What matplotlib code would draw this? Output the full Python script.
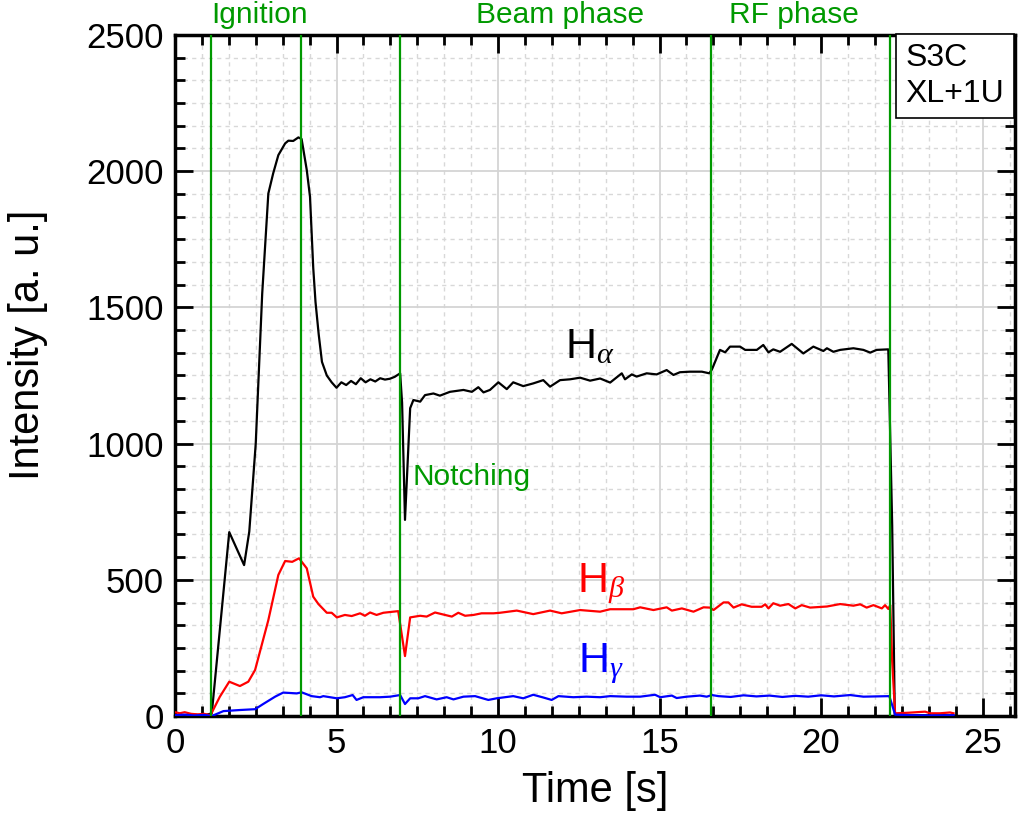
import matplotlib
matplotlib.use("Agg")
import matplotlib.pyplot as plt
from matplotlib.ticker import MultipleLocator

plt.rcParams['font.family'] = ['Liberation Sans', 'DejaVu Sans']
plt.rcParams['mathtext.fontset'] = 'custom'
plt.rcParams['mathtext.rm'] = 'Liberation Sans'
plt.rcParams['mathtext.it'] = 'Liberation Serif:italic'

# H alpha (black)
ha_t = [0.0, 0.3, 0.6, 0.9, 1.14, 1.68, 2.14, 2.30, 2.5, 2.7, 2.89, 3.04, 3.2, 3.41, 3.51,
        3.66, 3.82, 3.92, 4.08, 4.18, 4.28, 4.35, 4.45, 4.55, 4.7, 4.85, 5.0, 5.15, 5.3, 5.45,
        5.6, 5.75, 5.9, 6.05, 6.2, 6.35, 6.5, 6.65, 6.8, 6.97, 7.03, 7.12, 7.28, 7.38, 7.59,
        7.74, 8.0, 8.2, 8.51, 8.93, 9.19, 9.39, 9.55, 9.75, 10.01, 10.27, 10.47, 10.78, 11.09, 11.4,
        11.61, 11.92, 12.23, 12.54, 12.85, 13.16, 13.47, 13.83, 13.93, 14.14, 14.29, 14.6, 14.91, 15.22, 15.43,
        15.63, 15.94, 16.31, 16.54, 16.62, 16.87, 17.03, 17.18, 17.49, 17.65, 18.01, 18.21, 18.37, 18.52, 18.73,
        19.09, 19.45, 19.76, 20.07, 20.18, 20.38, 20.59, 21.0, 21.31, 21.52, 21.72, 22.08, 22.2, 22.28, 22.6,
        23.0, 23.4, 23.8, 24.1]
ha_y = [4, 2, 5, 2, 10, 675, 554, 677, 1000, 1550, 1918, 1992, 2059, 2102, 2112,
        2111, 2124, 2118, 2004, 1906, 1645, 1520, 1400, 1300, 1250, 1225, 1205, 1225, 1215, 1230,
        1218, 1240, 1225, 1236, 1228, 1240, 1235, 1238, 1245, 1258, 1150, 720, 1130, 1160, 1154,
        1178, 1184, 1176, 1190, 1197, 1190, 1207, 1188, 1197, 1225, 1200, 1225, 1211, 1221, 1233,
        1209, 1233, 1236, 1242, 1231, 1239, 1224, 1258, 1236, 1254, 1246, 1258, 1254, 1270, 1252,
        1262, 1264, 1264, 1258, 1272, 1344, 1335, 1356, 1356, 1344, 1344, 1362, 1335, 1346, 1337,
        1366, 1331, 1356, 1340, 1350, 1337, 1344, 1350, 1344, 1334, 1344, 1346, 700, 5, 2,
        3, 2, 3, 2]

# H beta (red)
hb_t = [0.0, 0.15, 0.3, 0.5, 0.7, 0.9, 1.1, 1.39, 1.68, 2.01, 2.27, 2.48, 2.89, 3.2, 3.41,
        3.63, 3.84, 4.08, 4.28, 4.44, 4.70, 4.85, 5.01, 5.26, 5.47, 5.73, 5.88, 6.04, 6.24, 6.45,
        6.91, 7.12, 7.28, 7.59, 7.79, 8.05, 8.36, 8.57, 8.77, 8.98, 9.24, 9.49, 9.86, 10.06, 10.58,
        11.09, 11.61, 11.97, 12.54, 13.16, 13.47, 14.19, 14.4, 14.81, 15.22, 15.38, 15.69, 16.05, 16.36, 16.56,
        16.67, 16.98, 17.13, 17.29, 17.54, 17.85, 18.16, 18.27, 18.37, 18.52, 18.73, 18.99, 19.2, 19.4, 19.66,
        20.18, 20.59, 21.0, 21.21, 21.41, 21.62, 21.88, 21.98, 22.08, 22.14, 22.2, 22.29, 22.7, 23.22, 23.37,
        23.68, 23.99, 24.1]
hb_y = [14, 10, 14, 8, 6, 8, 3, 71, 126, 110, 126, 169, 352, 518, 569,
        566, 579, 542, 438, 411, 379, 379, 362, 371, 367, 377, 368, 380, 371, 379,
        385, 220, 362, 368, 365, 380, 371, 365, 379, 368, 371, 377, 377, 379, 387,
        374, 387, 377, 389, 383, 392, 392, 399, 389, 399, 387, 395, 383, 399, 398,
        389, 417, 417, 398, 410, 401, 401, 410, 395, 414, 405, 411, 395, 407, 398,
        402, 411, 405, 410, 398, 407, 395, 407, 393, 407, 200, 10, 12, 16, 10,
        10, 13, 10]

# H gamma (blue)
hg_t = [0.0, 0.3, 0.6, 0.9, 1.14, 1.5, 2.01, 2.48, 2.73, 3.1, 3.35, 3.77, 3.92, 4.23, 4.49,
        4.59, 5.01, 5.26, 5.5, 5.62, 5.83, 6.35, 6.66, 6.97, 7.12, 7.28, 7.53, 7.74, 8.1, 8.41,
        8.62, 8.93, 9.29, 9.7, 9.96, 10.47, 10.78, 11.09, 11.4, 11.66, 11.87, 12.33, 12.74, 13.16, 13.47,
        13.98, 14.4, 14.86, 15.02, 15.38, 15.53, 15.84, 16.25, 16.46, 16.62, 16.82, 17.2, 17.6, 18.0, 18.4,
        18.8, 19.2, 19.6, 20.0, 20.4, 20.9, 21.31, 21.7, 22.11, 22.2, 22.29, 22.8, 23.4, 24.1]
hg_y = [3, 5, 2, 4, 0, 18, 22, 25, 44, 71, 86, 83, 87, 73, 69,
        73, 65, 69, 77, 59, 69, 69, 71, 77, 44, 65, 65, 73, 61, 69,
        61, 71, 73, 59, 65, 73, 65, 78, 68, 59, 73, 69, 71, 69, 73,
        71, 71, 78, 69, 75, 66, 71, 75, 71, 77, 73, 70, 76, 72, 75,
        70, 74, 71, 76, 72, 77, 71, 72, 73, 40, 5, 3, 2, 3]

# phase markers
marker_x = [1.12, 3.9, 6.98, 16.58, 22.12]
phase_labels = ["Ignition", "Beam phase", "RF phase"]
phase_label_x = [2.63, 11.92, 19.16]

green = '#009900'

fig = plt.figure(figsize=(10.22, 8.35), dpi=100)
ax = fig.add_axes([0.1712, 0.1425, 0.8219, 0.8156])

ax.plot(ha_t, ha_y, color='black', lw=1.6, zorder=3)
ax.plot(hb_t, hb_y, color='red', lw=1.6, zorder=3)
ax.plot(hg_t, hg_y, color='blue', lw=1.6, zorder=3)

for xv in marker_x:
    ax.axvline(xv, color=green, lw=1.6, zorder=4)

for lab, xv in zip(phase_labels, phase_label_x):
    ax.text(xv, 1.029, lab, color=green, fontsize=21.5, ha='center', va='center',
            transform=ax.get_xaxis_transform(), clip_on=False)
ax.text(7.34, 877, "Notching", color=green, fontsize=21.5, ha='left', va='center')

ax.text(12.07, 1314, r'H$_{\alpha}$', color='black', fontsize=31, ha='left', va='baseline')
ax.text(12.45, 455, r'H$_{\beta}$', color='red', fontsize=31, ha='left', va='baseline')
ax.text(12.48, 161, r'H$_{\gamma}$', color='blue', fontsize=31, ha='left', va='baseline')

ax.text(0.87, 0.988, "S3C\nXL+1U", transform=ax.transAxes, fontsize=23, ha='left', va='top',
        linespacing=1.25, zorder=6,
        bbox=dict(boxstyle='square,pad=0.3', fc='white', ec='black', lw=1.2))

ax.set_xlim(0, 26)
ax.set_ylim(0, 2500)
ax.xaxis.set_major_locator(MultipleLocator(5))
ax.xaxis.set_minor_locator(MultipleLocator(5 / 6))
ax.yaxis.set_major_locator(MultipleLocator(500))
ax.yaxis.set_minor_locator(MultipleLocator(500 / 6))

ax.grid(which='major', color='#d4d4d4', lw=1.3, ls='-', zorder=0)
ax.grid(which='minor', color='#d8d8d8', lw=1.0, ls=(0, (3, 3)), zorder=0)
ax.set_axisbelow(True)

ax.tick_params(which='both', direction='in', top=True, right=True, width=2, labelsize=25, pad=8)
ax.tick_params(which='major', length=13)
ax.tick_params(which='minor', length=7)
for sp in ax.spines.values():
    sp.set_linewidth(2.5)

ax.set_xlabel("Time [s]", fontsize=30, labelpad=8)
ax.set_ylabel("Intensity [a. u.]", fontsize=30, va='center')
ax.yaxis.set_label_coords(-0.175, 0.545)

fig.savefig("out.png", dpi=100)
